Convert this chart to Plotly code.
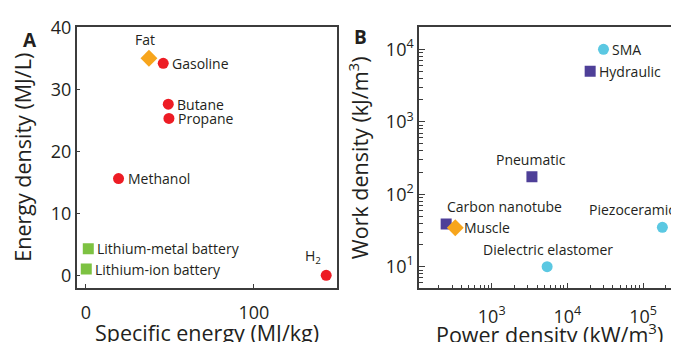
import math
import plotly.graph_objects as go

# ---------------- Panel A data ----------------
fuel_names = ["Gasoline", "Butane", "Propane", "Methanol", "H<sub>2</sub>"]
fuel_specific = [46.0, 49.0, 49.4, 19.4, 143.0]
fuel_density = [34.2, 27.6, 25.3, 15.6, 0.0]

fat_names = ["Fat"]
fat_specific = [37.5]
fat_density = [35.0]

battery_names = ["Lithium-metal battery", "Lithium-ion battery"]
battery_specific = [1.4, 0.2]
battery_density = [4.3, 1.0]

a_xticks = [0, 100]
a_yticks = [0, 10, 20, 30, 40]
a_xtitle = "Specific energy (MJ/kg)"
a_ytitle = "Energy density (MJ/L)"

# ---------------- Panel B data ----------------
sma_names = ["SMA", "Piezoceramic", "Dielectric elastomer"]
sma_power = [3.0e4, 1.8e5, 5.4e3]
sma_work = [1.0e4, 35.0, 10.0]

fluid_names = ["Hydraulic", "Pneumatic", "Carbon nanotube"]
fluid_power = [2.0e4, 3.4e3, 250.0]
fluid_work = [5.0e3, 175.0, 39.0]

muscle_names = ["Muscle"]
muscle_power = [330.0]
muscle_work = [34.5]

b_xticks = [1e3, 1e4, 1e5]
b_xticklabels = ["10<sup>3</sup>", "10<sup>4</sup>", "10<sup>5</sup>"]
b_yticks = [1e1, 1e2, 1e3, 1e4]
b_yticklabels = ["10<sup>1</sup>", "10<sup>2</sup>", "10<sup>3</sup>", "10<sup>4</sup>"]
b_xtitle = "Power density (kW/m<sup>3</sup>)"
b_ytitle = "Work density (kJ/m<sup>3</sup>)"

# ---------------- styling ----------------
FONT = "Open Sans"
TXT = "#231F20"
LINE = "#3C3C3C"
RED = "#ED1C24"
ORANGE = "#F7A51C"
GREEN = "#7DC242"
PURPLE = "#4E3F98"
CYAN = "#5BC8E2"

# page is 679x342; the html body has an 8px margin, so the figure is made smaller
OFF = 8
W, H = 679 - OFF, 342 - OFF


def px_x(p):  # page pixel -> paper x
    return (p - OFF) / W


def px_y(p):  # page pixel -> paper y
    return 1 - (p - OFF) / H


# label placement: (xanchor, yanchor, xshift, yshift)
RIGHT = ("left", "middle", 7, 0)
label_pos = {
    "Gasoline": RIGHT, "Butane": RIGHT, "Propane": RIGHT, "Methanol": RIGHT,
    "H<sub>2</sub>": ("center", "bottom", -13, 6),
    "Fat": ("center", "bottom", -4, 7),
    "Lithium-metal battery": RIGHT, "Lithium-ion battery": RIGHT,
    "SMA": RIGHT, "Hydraulic": RIGHT, "Muscle": RIGHT,
    "Pneumatic": ("center", "bottom", -1, 6),
    "Carbon nanotube": ("left", "bottom", -1, 6),
    "Piezoceramic": ("center", "bottom", -30, 6),
    "Dielectric elastomer": ("center", "bottom", 1, 6),
}

fig = go.Figure()


def add_points(xs, ys, names, symbol, color, size, xa, ya, logx=False, logy=False):
    fig.add_trace(go.Scatter(x=xs, y=ys, mode="markers", xaxis=xa, yaxis=ya,
                             marker=dict(symbol=symbol, color=color, size=size, line=dict(width=0)),
                             showlegend=False, hoverinfo="text", text=names))
    for n, x, y in zip(names, xs, ys):
        xanc, yanc, dx, dy = label_pos[n]
        fig.add_annotation(x=math.log10(x) if logx else x, y=math.log10(y) if logy else y,
                           xref=xa, yref=ya, text=n, showarrow=False,
                           xanchor=xanc, yanchor=yanc, xshift=dx, yshift=dy,
                           font=dict(family=FONT, size=14, color=TXT))


add_points(fuel_specific, fuel_density, fuel_names, "circle", RED, 11, "x", "y")
add_points(fat_specific, fat_density, fat_names, "diamond", ORANGE, 13, "x", "y")
add_points(battery_specific, battery_density, battery_names, "square", GREEN, 11, "x", "y")

add_points(sma_power, sma_work, sma_names, "circle", CYAN, 11, "x2", "y2", True, True)
add_points(fluid_power, fluid_work, fluid_names, "square", PURPLE, 11, "x2", "y2", True, True)
add_points(muscle_power, muscle_work, muscle_names, "diamond", ORANGE, 13, "x2", "y2", True, True)

TITLE_FONT = dict(family=FONT, size=21.5, color=TXT)
axis_common = dict(showline=True, linecolor=LINE, linewidth=1.5, mirror=True,
                   ticks="inside", ticklen=4, tickwidth=1.2, tickcolor=LINE,
                   showgrid=False, zeroline=False, automargin=False,
                   tickfont=dict(family=FONT, size=18, color=TXT),
                   title_font=TITLE_FONT)

minor = dict(ticks="inside", ticklen=4, tickcolor=LINE, dtick="D1", showgrid=False)

fig.update_layout(
    width=W, height=H,
    margin=dict(l=0, r=0, t=0, b=0),
    paper_bgcolor="white", plot_bgcolor="white",
    xaxis=dict(domain=[px_x(76.7), px_x(337.3)], range=[-5.5, 149.6], tickvals=a_xticks,
               ticklabelstandoff=8, anchor="y", **axis_common),
    yaxis=dict(domain=[px_y(287.7), px_y(26.7)], range=[-2.0, 40.1], tickvals=a_yticks,
               title=dict(text=a_ytitle, standoff=14), anchor="x", **axis_common),
    xaxis2=dict(domain=[px_x(419), 1.0], type="log", range=[2.039, 5.475],
                tickvals=b_xticks, ticktext=b_xticklabels, anchor="y2", ticklabelstandoff=11,
                minor=minor, **{**axis_common, "ticklen": 6}),
    yaxis2=dict(domain=[px_y(288.3), px_y(27.3)], type="log", range=[0.702, 4.304],
                tickvals=b_yticks, ticktext=b_yticklabels, anchor="x2",
                title=dict(text=b_ytitle, standoff=11),
                minor=minor, **{**axis_common, "ticklen": 6, "mirror": False}),
)

# x-axis titles (placed as paper annotations so they may run off the bottom edge like the original)
fig.add_annotation(x=px_x(207), y=px_y(316), xref="paper", yref="paper", text=a_xtitle,
                   showarrow=False, xanchor="center", yanchor="top", font=TITLE_FONT)
fig.add_annotation(x=px_x(549.7), y=px_y(316), xref="paper", yref="paper", text=b_xtitle,
                   showarrow=False, xanchor="center", yanchor="top", font=TITLE_FONT)

fig.add_annotation(x=px_x(20.5), y=px_y(25), xref="paper", yref="paper", text="<b>A</b>",
                   showarrow=False, font=dict(family=FONT, size=19, color=TXT))
fig.add_annotation(x=px_x(360), y=px_y(22), xref="paper", yref="paper", text="<b>B</b>",
                   showarrow=False, font=dict(family=FONT, size=19, color=TXT))

fig.write_html("out.html")
